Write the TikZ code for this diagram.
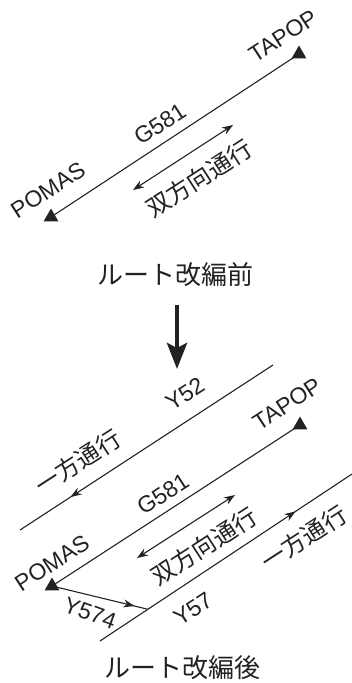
\documentclass[tikz,border=0pt]{standalone}
\usepackage{fontspec}
\setmainfont{Liberation Sans}
\newfontfamily\jp{Noto Sans CJK JP}
\usetikzlibrary{arrows.meta,shapes.geometric,decorations.markings,calc}
\definecolor{ink}{HTML}{222222}
\tikzset{tipA/.tip={Stealth[length=11pt,width=8pt]}}
\begin{document}
\begin{tikzpicture}[x=1pt,y=-1pt,
  wp/.style={regular polygon, regular polygon sides=3, fill=ink, inner sep=0pt, minimum size=17pt},
  route/.style={line width=1.1pt, ink},
  midarrow/.style={postaction={decorate}, decoration={markings, mark=at position #1 with {\arrow{Stealth[length=11pt,width=8pt]}}}},
  lat/.style={font=\fontsize{23}{23}\selectfont, text=ink, inner sep=0pt},
  cjk/.style={font=\jp\fontsize{24}{24}\selectfont, text=ink, inner sep=0pt},
  ttl/.style={font=\jp\fontsize{26}{26}\selectfont, text=ink, inner sep=0pt}
]
\useasboundingbox (0,0) rectangle (352,683);

% ---------- before ----------
\node[wp] (tapA) at (299,54) {};
\node[wp] (pomA) at (51,217) {};
\draw[route] (pomA.center) -- (tapA.center);
\coordinate (dA1) at (133,190);
\coordinate (dA2) at (233,125);
\draw[route, tipA-tipA] (dA1) -- (dA2);

\node[lat, rotate=33] (tapAl) at (283,36) {TAPOP};
\node[lat, rotate=33] (pomAl) at (48,190) {POMAS};
\node[lat, rotate=33] (gA) at (160,124) {G581};
\node[cjk, rotate=33] (bothA) at (199,178) {双方向通行};

\node[ttl] (t1) at (175,275) {ルート改編前};

\coordinate (da1) at (177,305);
\coordinate (da2) at (177,369);
\draw[line width=4.5pt, ink, -{Stealth[length=26pt,width=20pt,inset=5pt]}] (da1) -- (da2);

% ---------- after ----------
\coordinate (y52a) at (273,365);
\coordinate (y52b) at (20,530);
\draw[route, midarrow=0.80] (y52a) -- (y52b);

\node[wp] (tapB) at (300,425) {};
\node[wp] (pomB) at (52,586) {};
\draw[route] (pomB.center) -- (tapB.center);
\coordinate (dB1) at (137,558);
\coordinate (dB2) at (235,495);
\draw[route, tipA-tipA] (dB1) -- (dB2);

\coordinate (y57a) at (100,641);
\coordinate (y57b) at (352,474);
\draw[route, midarrow=0.776] (y57a) -- (y57b);
\coordinate (jn) at ($(y57a)!0.19!(y57b)$);
\draw[route, midarrow=0.86] (pomB.center) -- (jn);

\node[lat, rotate=33] (y52l) at (185,394) {Y52};
\node[cjk, rotate=33] (oneA) at (78,462) {一方通行};
\node[lat, rotate=33] (tapBl) at (287,404) {TAPOP};
\node[lat, rotate=33] (gB) at (163,494) {G581};
\node[lat, rotate=33] (pomBl) at (52,563) {POMAS};
\node[cjk, rotate=33] (bothB) at (204,546) {双方向通行};
\node[cjk, rotate=33] (oneB) at (304,538) {一方通行};
\node[lat, rotate=-20] (y574l) at (90,613) {Y574};
\node[lat, rotate=33] (y57l) at (193,609) {Y57};

\node[ttl] (t2) at (182,668) {ルート改編後};
\end{tikzpicture}
\end{document}
